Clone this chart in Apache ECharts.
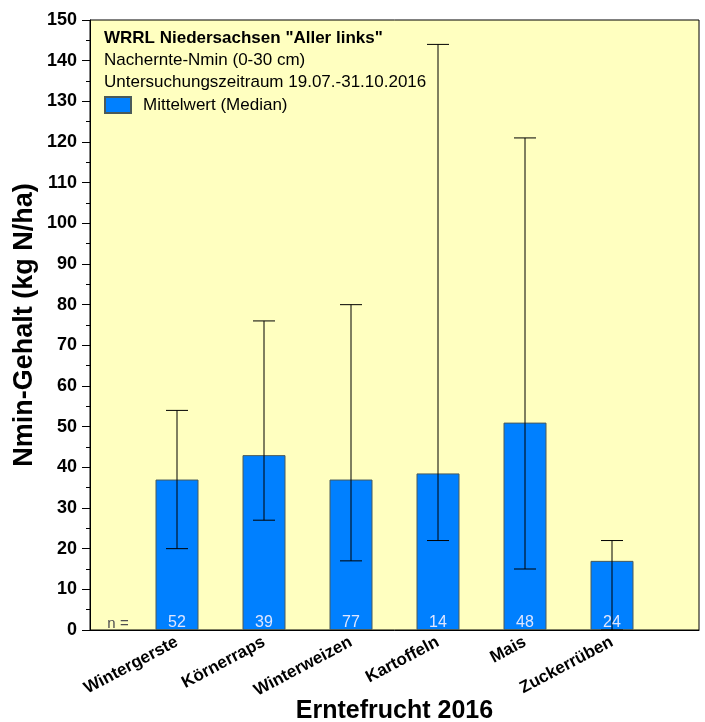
<!DOCTYPE html>
<html>
<head>
<meta charset="utf-8">
<script src="https://cdn.jsdelivr.net/npm/echarts@6/dist/echarts.min.js"></script>
<style>
  html, body { margin: 0; padding: 0; background: #fff; }
  #chart { width: 705px; height: 722px; }
</style>
</head>
<body>
<div id="chart"></div>
<script>
/* Nachernte-Nmin 2016 — Median mit Spannweite */

// Kategorien (erste und letzte Position leer, damit die Balken bei 1..6 sitzen)
const categories = ['', 'Wintergerste', 'Körnerraps', 'Winterweizen', 'Kartoffeln', 'Mais', 'Zuckerrüben', ''];
const medians = ['-', 37, 43, 37, 38.5, 51, 17, '-'];
const lowValues = [20, 27, 17, 22, 15, 0];
const highValues = [54, 76, 80, 144, 121, 22];
const counts = [52, 39, 77, 14, 48, 24];
const yTicks = { min: 0, max: 150, interval: 10 };

const FONT = "'Liberation Sans', Arial, sans-serif";

const chart = echarts.init(document.getElementById('chart'), null, { renderer: 'canvas' });

// Fehlerbalken-Daten: [Index, unten, oben]
const errorData = lowValues.map((lo, i) => [i + 1, lo, highValues[i]]);
const countData = counts.map((n, i) => [i + 1, n]);

function renderError(params, api) {
  const x = api.value(0);
  const lo = api.coord([x, api.value(1)]);
  const hi = api.coord([x, api.value(2)]);
  const half = 11;
  const style = { stroke: '#000', lineWidth: 1 };
  return {
    type: 'group',
    children: [
      { type: 'line', shape: { x1: lo[0], y1: lo[1], x2: hi[0], y2: hi[1] }, style },
      { type: 'line', shape: { x1: hi[0] - half, y1: hi[1], x2: hi[0] + half, y2: hi[1] }, style },
      { type: 'line', shape: { x1: lo[0] - half, y1: lo[1], x2: lo[0] + half, y2: lo[1] }, style },
    ],
  };
}

function renderCount(params, api) {
  const p = api.coord([api.value(0), 0]);
  const children = [{
    type: 'text',
    x: p[0], y: p[1] + 1,
    style: {
      text: String(api.value(1)), fill: '#dfe6ff', font: '16px ' + FONT,
      align: 'center', verticalAlign: 'bottom',
    },
  }];
  // "n =" vor dem ersten Balken
  if (params.dataIndex === 0) {
    const p0 = api.coord([0, 0]);
    children.push({
      type: 'text',
      x: p0[0] + 28, y: p[1] + 1,
      style: { text: 'n =', fill: '#505050', font: '15px ' + FONT, align: 'center', verticalAlign: 'bottom' },
    });
  }
  return { type: 'group', children };
}

const option = {
  animation: false,
  backgroundColor: '#ffffff',
  textStyle: { fontFamily: FONT },
  title: {
    text: 'WRRL Niedersachsen "Aller links"',
    subtext: 'Nachernte-Nmin (0-30 cm)\nUntersuchungszeitraum 19.07.-31.10.2016',
    left: 104, top: 27, padding: 0, itemGap: 0,
    textStyle: { fontFamily: FONT, fontSize: 17, fontWeight: 'bold', color: '#000', lineHeight: 22 },
    subtextStyle: { fontFamily: FONT, fontSize: 17, color: '#000', lineHeight: 22 },
  },
  legend: {
    data: ['Mittelwert (Median)'],
    left: 104, top: 96, padding: 0,
    icon: 'rect', itemWidth: 26, itemHeight: 16,
    textStyle: { fontFamily: FONT, fontSize: 17, color: '#000', padding: [0, 0, 0, 7] },
  },
  grid: {
    left: 90, right: 6, top: 20, bottom: 92,
    outerBoundsMode: 'none',
    show: true, backgroundColor: '#ffffc0', borderColor: '#000', borderWidth: 1,
  },
  xAxis: {
    type: 'category',
    data: categories,
    boundaryGap: false,
    name: 'Erntefrucht 2016',
    nameLocation: 'middle', nameGap: 69, nameMoveOverlap: false,
    nameTextStyle: { fontFamily: FONT, fontSize: 25, fontWeight: 'bold', color: '#000' },
    axisLine: { lineStyle: { color: '#000', width: 1 } },
    axisTick: { show: false },
    axisLabel: {
      interval: 0, rotate: 28, margin: 11,
      fontFamily: FONT, fontSize: 17, fontWeight: 'bold', color: '#000',
    },
    splitLine: { show: false },
  },
  yAxis: {
    type: 'value',
    min: yTicks.min, max: yTicks.max, interval: yTicks.interval,
    name: 'Nmin-Gehalt (kg N/ha)',
    nameLocation: 'middle', nameGap: 52, nameMoveOverlap: false,
    nameTextStyle: { fontFamily: FONT, fontSize: 27, fontWeight: 'bold', color: '#000' },
    axisLine: { show: true, lineStyle: { color: '#000', width: 1 } },
    axisTick: { show: true, length: 8, lineStyle: { color: '#000' } },
    minorTick: { show: true, splitNumber: 2, length: 4, lineStyle: { color: '#000' } },
    axisLabel: { margin: 13, fontFamily: FONT, fontSize: 18, fontWeight: 'bold', color: '#000' },
    splitLine: { show: false },
  },
  series: [
    {
      name: 'Mittelwert (Median)',
      type: 'bar',
      data: medians,
      barWidth: 43,
      itemStyle: { color: '#0080ff', borderColor: '#4a5a5a', borderWidth: 1 },
      z: 2,
    },
    {
      name: 'Spannweite',
      type: 'custom',
      data: errorData,
      renderItem: renderError,
      encode: { x: 0, y: [1, 2] },
      z: 3,
    },
    {
      name: 'n',
      type: 'custom',
      data: countData,
      renderItem: renderCount,
      encode: { x: 0, y: 1 },
      z: 4,
    },
  ],
};

chart.setOption(option);
</script>
</body>
</html>
